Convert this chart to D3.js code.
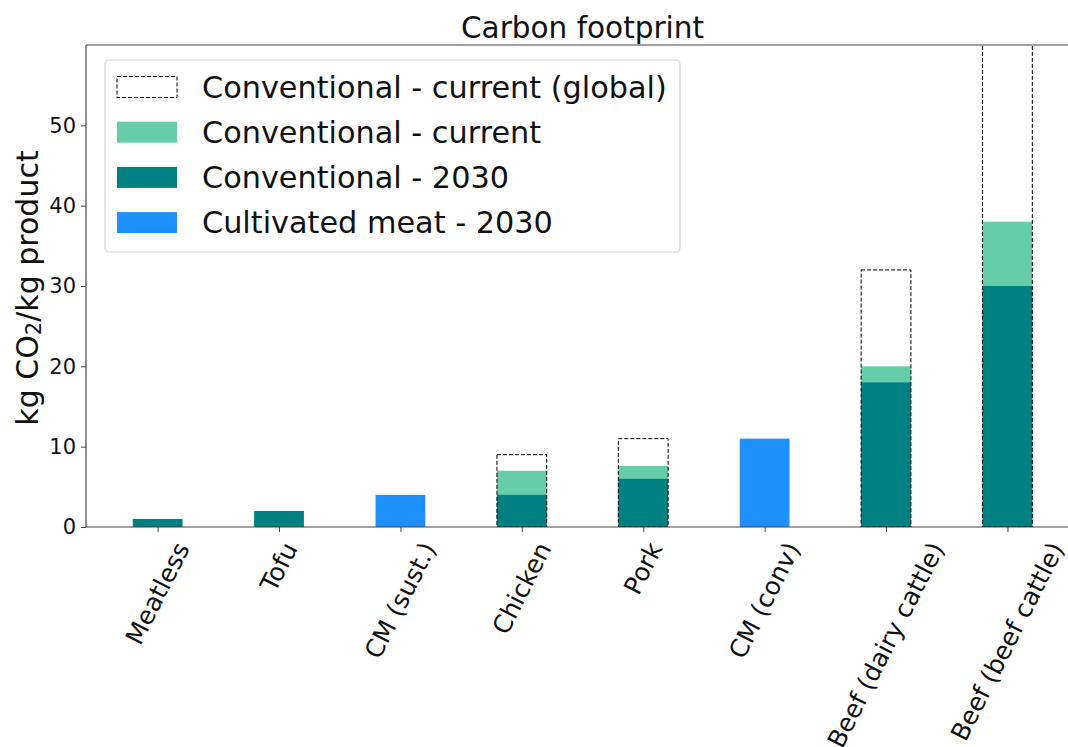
<!DOCTYPE html>
<html>
<head>
<meta charset="UTF-8">
<title>Carbon footprint</title>
<script src="https://d3js.org/d3.v7.min.js"></script>
<style>
  body { margin: 0; background: #fff; }
  svg { display: block; font-family: "DejaVu Sans", sans-serif; }
</style>
</head>
<body>
<script>
// data (kg CO2 / kg product)
var categories = ["Meatless", "Tofu", "CM (sust.)", "Chicken", "Pork", "CM (conv)", "Beef (dairy cattle)", "Beef (beef cattle)"];
var conv2030   = [1, 2, null, 4, 6, null, 18, 30];
var convNow    = [null, null, null, 7, 7.6, null, 20, 38];
var convGlobal = [null, null, null, 9, 11, null, 32, 100];
var cultivated = [null, null, 4, null, null, 11, null, null];
var yTicks = [0, 10, 20, 30, 40, 50];

var legendItems = [
  {label: "Conventional - current (global)", fill: "none", dashed: true},
  {label: "Conventional - current", fill: "#66cdaa"},
  {label: "Conventional - 2030", fill: "#008080"},
  {label: "Cultivated meat - 2030", fill: "#1e90ff"}
];

var W = 1068, H = 747;
var svg = d3.select("body").append("svg").attr("width", W).attr("height", H);

var pLeft = 86, pTop = 45, pBottom = 527;
var x = d3.scaleLinear().domain([-0.59, 7.59]).range([pLeft, pLeft + 8.18 * 121.4]);
var y = d3.scaleLinear().domain([0, 60]).range([pBottom, pTop]);
var bw = x(0.41) - x(0);

svg.append("defs").append("clipPath").attr("id", "plot")
  .append("rect").attr("x", pLeft).attr("y", pTop).attr("width", x.range()[1] - pLeft).attr("height", pBottom - pTop);

var plot = svg.append("g").attr("clip-path", "url(#plot)");

function bars(vals, fill, dashed) {
  var d = vals.map(function (v, i) { return {i: i, v: v}; }).filter(function (d) { return d.v != null; });
  var sel = plot.append("g").selectAll("rect").data(d).enter().append("rect")
    .attr("x", function (d) { return x(d.i) - bw / 2; })
    .attr("width", bw)
    .attr("y", function (d) { return y(d.v); })
    .attr("height", function (d) { return y(0) - y(d.v); });
  if (dashed) {
    sel.attr("fill", "none").attr("stroke", "#000").attr("stroke-width", 1)
      .attr("stroke-dasharray", "4,2");
  } else {
    sel.attr("fill", fill);
  }
}
bars(convNow, "#66cdaa");
bars(conv2030, "#008080");
bars(cultivated, "#1e90ff");
bars(convGlobal, null, true);

// spines
svg.append("line").attr("x1", pLeft).attr("x2", pLeft).attr("y1", pTop).attr("y2", pBottom)
  .attr("stroke", "#444").attr("stroke-width", 1.2);
svg.append("line").attr("x1", pLeft).attr("x2", W).attr("y1", pTop).attr("y2", pTop)
  .attr("stroke", "#444").attr("stroke-width", 1.2);
svg.append("line").attr("x1", pLeft).attr("x2", W).attr("y1", pBottom).attr("y2", pBottom)
  .attr("stroke", "#444").attr("stroke-width", 1.2);

// y axis
var ya = svg.append("g").attr("transform", "translate(" + pLeft + ",0)")
  .call(d3.axisLeft(y).tickValues(yTicks).tickSize(5).tickPadding(5).tickFormat(d3.format("d")));
ya.select(".domain").remove();
ya.selectAll(".tick line").attr("stroke", "#444");
ya.selectAll(".tick text").attr("fill", "#111").style("font-size", "21px")
  .style("font-family", "DejaVu Sans");

// x axis ticks
var xa = svg.append("g").attr("transform", "translate(0," + pBottom + ")")
  .call(d3.axisBottom(x).tickValues(d3.range(categories.length)).tickSize(5).tickFormat(""));
xa.select(".domain").remove();
xa.selectAll(".tick line").attr("stroke", "#444");

// rotated category labels, bbox centred on the tick
var ang = 63, rad = ang * Math.PI / 180, fs = 25;
categories.forEach(function (c, i) {
  var t = svg.append("text").text(c)
    .attr("text-anchor", "middle").attr("dominant-baseline", "central")
    .style("font-size", fs + "px").attr("fill", "#111");
  var w = t.node().getComputedTextLength();
  var hh = w * Math.sin(rad) + fs * 1.1 * Math.cos(rad);
  t.attr("transform", "translate(" + x(i) + "," + (538 + hh / 2) + ") rotate(" + (-ang) + ")");
});

// y label
var yl = svg.append("text")
  .attr("transform", "translate(27," + ((pTop + pBottom) / 2 + 2) + ") rotate(-90)")
  .attr("text-anchor", "middle").attr("dominant-baseline", "central")
  .style("font-size", "30px").attr("fill", "#111");
yl.append("tspan").text("kg CO");
yl.append("tspan").text("2").style("font-size", "21px").attr("dy", 7);
yl.append("tspan").text("/kg product").attr("dy", -7);

// title
svg.append("text").attr("x", (pLeft + x.range()[1]) / 2).attr("y", 38)
  .attr("text-anchor", "middle").style("font-size", "29.5px").attr("fill", "#111")
  .text("Carbon footprint");

// legend
var lg = svg.append("g");
lg.append("rect").attr("x", 105).attr("y", 60).attr("width", 575).attr("height", 192)
  .attr("rx", 4).attr("fill", "#fff").attr("fill-opacity", 0.8)
  .attr("stroke", "#d6d6d6").attr("stroke-width", 1.2);
var row = lg.selectAll("g.item").data(legendItems).enter().append("g")
  .attr("class", "item")
  .attr("transform", function (d, i) { return "translate(0," + (87 + i * 45.2) + ")"; });
row.append("rect").attr("x", 117).attr("y", -10.5).attr("width", 60).attr("height", 21)
  .attr("fill", function (d) { return d.dashed ? "none" : d.fill; })
  .attr("stroke", function (d) { return d.dashed ? "#000" : "none"; })
  .attr("stroke-dasharray", function (d) { return d.dashed ? "4,2" : null; });
row.append("text").attr("x", 202).attr("dominant-baseline", "central")
  .style("font-size", "30.3px").attr("fill", "#111")
  .text(function (d) { return d.label; });
</script>
</body>
</html>
